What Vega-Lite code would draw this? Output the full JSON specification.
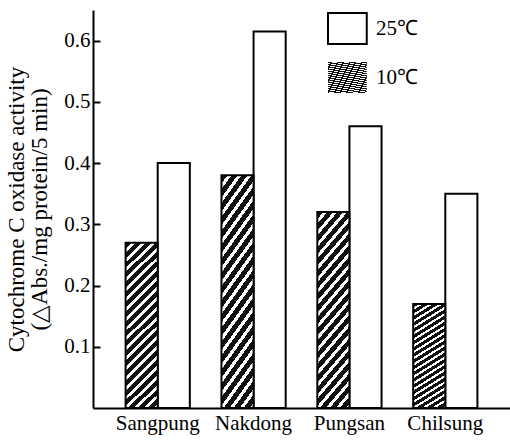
{
  "$schema": "https://vega.github.io/schema/vega-lite/v6.json",
  "width": 417,
  "height": 398,
  "autosize": {"type": "none"},
  "padding": {"left": 93, "top": 10, "right": 0, "bottom": 32},
  "background": "#ffffff",
  "config": {
    "view": {"stroke": null},
    "font": "Liberation Serif",
    "legend": {
      "orient": "none",
      "title": null,
      "padding": 0,
      "symbolType": "M-1,-1H1.5V1H-1Z",
      "symbolSize": 961,
      "symbolStrokeWidth": 2,
      "symbolStrokeColor": "#000000",
      "labelFont": "Liberation Serif",
      "labelFontSize": 21,
      "labelColor": "#000",
      "labelOffset": 16
    }
  },
  "data": {
    "values": [
      {"variety": "Sangpung", "temp": "10℃", "activity": 0.27},
      {"variety": "Sangpung", "temp": "25℃", "activity": 0.40},
      {"variety": "Nakdong", "temp": "10℃", "activity": 0.38},
      {"variety": "Nakdong", "temp": "25℃", "activity": 0.615},
      {"variety": "Pungsan", "temp": "10℃", "activity": 0.32},
      {"variety": "Pungsan", "temp": "25℃", "activity": 0.46},
      {"variety": "Chilsung", "temp": "10℃", "activity": 0.17},
      {"variety": "Chilsung", "temp": "25℃", "activity": 0.35}
    ]
  },
  "encoding": {
    "x": {
      "field": "variety",
      "type": "nominal",
      "sort": ["Sangpung", "Nakdong", "Pungsan", "Chilsung"],
      "scale": {"paddingInner": 0.33, "paddingOuter": 0.34},
      "axis": {
        "title": null,
        "ticks": false,
        "domainColor": "#000",
        "domainWidth": 2,
        "labelAngle": 0,
        "labelFont": "Liberation Serif",
        "labelFontSize": 21,
        "labelColor": "#000",
        "labelPadding": 4
      }
    },
    "xOffset": {
      "field": "temp",
      "type": "nominal",
      "scale": {"domain": ["10℃", "25℃"]}
    },
    "y": {
      "field": "activity",
      "type": "quantitative",
      "scale": {"domain": [0, 0.65], "nice": false, "zero": true},
      "axis": {
        "title": ["Cytochrome C oxidase activity", "(△Abs./mg protein/5 min)"],
        "titleFont": "Liberation Serif",
        "titleFontSize": 23,
        "titleFontWeight": "normal",
        "titleColor": "#000",
        "titleLineHeight": 23,
        "titlePadding": 12,
        "values": [0.1, 0.2, 0.3, 0.4, 0.5, 0.6],
        "format": ".1f",
        "grid": false,
        "domainColor": "#000",
        "domainWidth": 2,
        "tickColor": "#000",
        "tickWidth": 2,
        "tickSize": -7,
        "labelPadding": 10,
        "labelFont": "Liberation Serif",
        "labelFontSize": 21,
        "labelColor": "#000"
      }
    }
  },
  "layer": [
    {
      "transform": [{"filter": "datum.temp === '25℃'"}],
      "mark": {"type": "bar", "strokeWidth": 2, "fill": "#ffffff"},
      "encoding": {
        "stroke": {
          "field": "temp",
          "type": "nominal",
          "scale": {"domain": ["25℃"], "range": ["#000000"]},
          "legend": {
            "legendX": 234,
            "legendY": 2,
            "symbolFillColor": "#ffffff"
          }
        }
      }
    },
    {
      "transform": [{"filter": "datum.temp === '10℃'"}],
      "mark": {
        "type": "bar",
        "strokeWidth": 2,
        "stroke": "#000000",
        "fill": {
          "gradient": "linear",
          "x1": 0, "y1": 0, "x2": 0.22, "y2": 1.15,
          "stops": [
            {"offset": 0, "color": "#111"}, {"offset": 0.03, "color": "#111"}, {"offset": 0.03, "color": "#fff"}, {"offset": 0.05, "color": "#fff"},
            {"offset": 0.05, "color": "#111"}, {"offset": 0.08, "color": "#111"}, {"offset": 0.08, "color": "#fff"}, {"offset": 0.1, "color": "#fff"},
            {"offset": 0.1, "color": "#111"}, {"offset": 0.13, "color": "#111"}, {"offset": 0.13, "color": "#fff"}, {"offset": 0.15, "color": "#fff"},
            {"offset": 0.15, "color": "#111"}, {"offset": 0.18, "color": "#111"}, {"offset": 0.18, "color": "#fff"}, {"offset": 0.2, "color": "#fff"},
            {"offset": 0.2, "color": "#111"}, {"offset": 0.23, "color": "#111"}, {"offset": 0.23, "color": "#fff"}, {"offset": 0.25, "color": "#fff"},
            {"offset": 0.25, "color": "#111"}, {"offset": 0.28, "color": "#111"}, {"offset": 0.28, "color": "#fff"}, {"offset": 0.3, "color": "#fff"},
            {"offset": 0.3, "color": "#111"}, {"offset": 0.33, "color": "#111"}, {"offset": 0.33, "color": "#fff"}, {"offset": 0.35, "color": "#fff"},
            {"offset": 0.35, "color": "#111"}, {"offset": 0.38, "color": "#111"}, {"offset": 0.38, "color": "#fff"}, {"offset": 0.4, "color": "#fff"},
            {"offset": 0.4, "color": "#111"}, {"offset": 0.43, "color": "#111"}, {"offset": 0.43, "color": "#fff"}, {"offset": 0.45, "color": "#fff"},
            {"offset": 0.45, "color": "#111"}, {"offset": 0.48, "color": "#111"}, {"offset": 0.48, "color": "#fff"}, {"offset": 0.5, "color": "#fff"},
            {"offset": 0.5, "color": "#111"}, {"offset": 0.53, "color": "#111"}, {"offset": 0.53, "color": "#fff"}, {"offset": 0.55, "color": "#fff"},
            {"offset": 0.55, "color": "#111"}, {"offset": 0.58, "color": "#111"}, {"offset": 0.58, "color": "#fff"}, {"offset": 0.6, "color": "#fff"},
            {"offset": 0.6, "color": "#111"}, {"offset": 0.63, "color": "#111"}, {"offset": 0.63, "color": "#fff"}, {"offset": 0.65, "color": "#fff"},
            {"offset": 0.65, "color": "#111"}, {"offset": 0.68, "color": "#111"}, {"offset": 0.68, "color": "#fff"}, {"offset": 0.7, "color": "#fff"},
            {"offset": 0.7, "color": "#111"}, {"offset": 0.73, "color": "#111"}, {"offset": 0.73, "color": "#fff"}, {"offset": 0.75, "color": "#fff"},
            {"offset": 0.75, "color": "#111"}, {"offset": 0.78, "color": "#111"}, {"offset": 0.78, "color": "#fff"}, {"offset": 0.8, "color": "#fff"},
            {"offset": 0.8, "color": "#111"}, {"offset": 0.83, "color": "#111"}, {"offset": 0.83, "color": "#fff"}, {"offset": 0.85, "color": "#fff"},
            {"offset": 0.85, "color": "#111"}, {"offset": 0.88, "color": "#111"}, {"offset": 0.88, "color": "#fff"}, {"offset": 0.9, "color": "#fff"},
            {"offset": 0.9, "color": "#111"}, {"offset": 0.93, "color": "#111"}, {"offset": 0.93, "color": "#fff"}, {"offset": 0.95, "color": "#fff"},
            {"offset": 0.95, "color": "#111"}, {"offset": 0.98, "color": "#111"}, {"offset": 0.98, "color": "#fff"}, {"offset": 1, "color": "#fff"}
          ]
        }
      },
      "encoding": {
        "strokeDash": {
          "field": "temp",
          "type": "nominal",
          "scale": {"domain": ["10℃"], "range": [[1, 0]]},
          "legend": {
            "legendX": 234,
            "legendY": 51,
            "symbolFillColor": {
              "expr": "{gradient: 'linear', x1: 0, y1: 1, x2: 1.08, y2: 0.094, stops: [{offset: 0, color: '#111'}, {offset: 0.12, color: '#111'}, {offset: 0.12, color: '#fff'}, {offset: 0.2, color: '#fff'}, {offset: 0.2, color: '#111'}, {offset: 0.32, color: '#111'}, {offset: 0.32, color: '#fff'}, {offset: 0.4, color: '#fff'}, {offset: 0.4, color: '#111'}, {offset: 0.52, color: '#111'}, {offset: 0.52, color: '#fff'}, {offset: 0.6, color: '#fff'}, {offset: 0.6, color: '#111'}, {offset: 0.72, color: '#111'}, {offset: 0.72, color: '#fff'}, {offset: 0.8, color: '#fff'}, {offset: 0.8, color: '#111'}, {offset: 0.92, color: '#111'}, {offset: 0.92, color: '#fff'}, {offset: 1, color: '#fff'}]}"
            }
          }
        }
      }
    }
  ]
}
